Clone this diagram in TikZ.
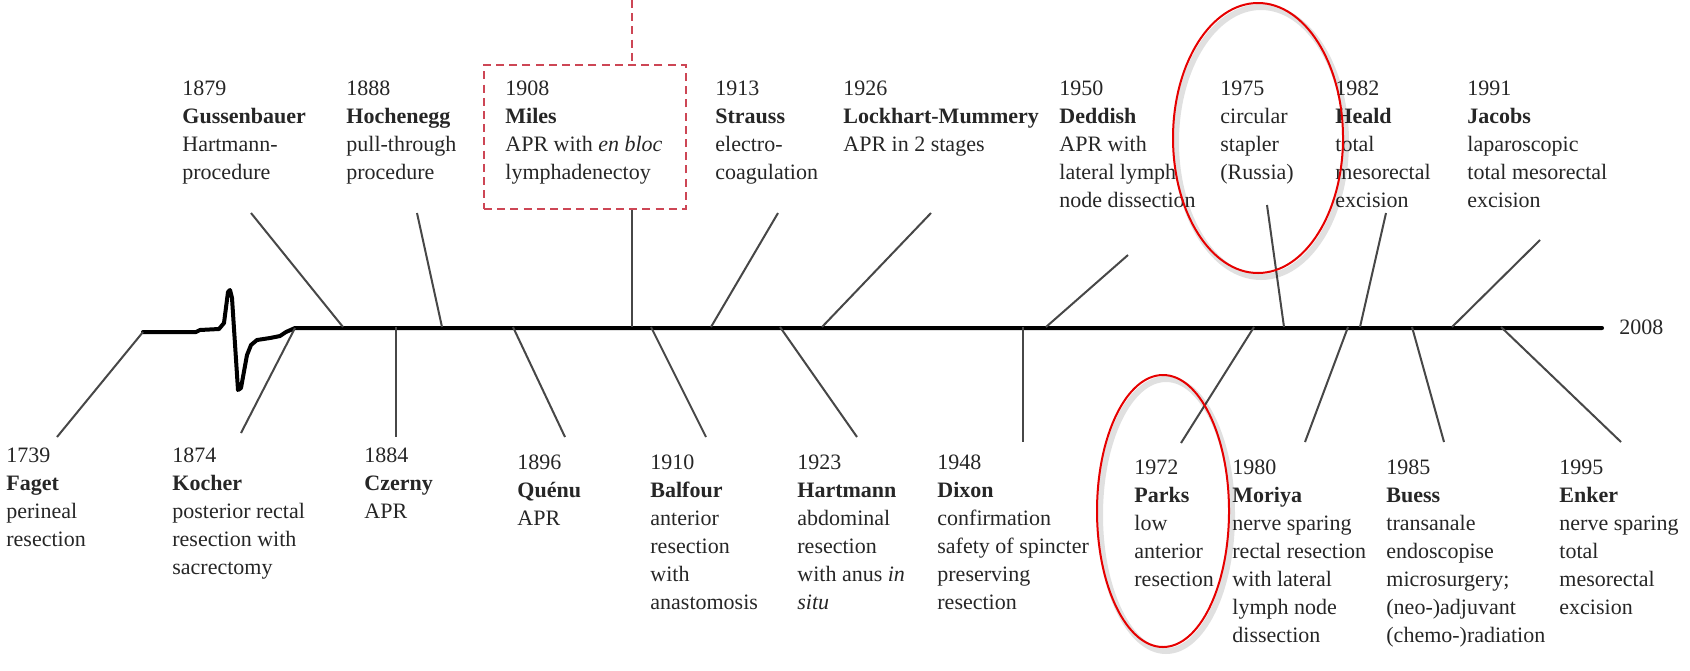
\documentclass[tikz,border=0pt]{standalone}
\usepackage{fontspec}
\setmainfont{Liberation Serif}
\usetikzlibrary{shapes.geometric}
\definecolor{boxred}{RGB}{205,70,85}
\definecolor{circred}{RGB}{230,0,0}
\begin{document}
\begin{tikzpicture}[x=0.5pt,y=-0.5pt,
  lbl/.style={anchor=north west, inner sep=0pt, align=left, font=\fontsize{11}{14}\selectfont, text=black!85},
  tick/.style={draw=black!72, line width=1pt},
  axis/.style={draw=black, line width=2pt, line join=round, line cap=round},
  hl/.style={ellipse, draw=circred, line width=1pt, inner sep=0pt},
  hlshadow/.style={ellipse, draw=black, opacity=0.12, line width=3pt, inner sep=0pt},
  milesbox/.style={draw=boxred, line width=1.2pt, dash pattern=on 4pt off 2.6pt, inner sep=0pt}
]
\useasboundingbox (0,0) rectangle (1690,670);

% main axis with wiggle
\coordinate (axstart) at (143,332);
\coordinate (axend) at (1602,328);
\draw[axis] (axstart) -- (196,332) -- (200,330) -- (219,329) -- (224,323) -- (228,292) -- (230,290) -- (232,298)
  -- (238,390) -- (241,388) -- (247,355) -- (251,345) -- (257,340) -- (270,338) -- (280,336) -- (286,332) -- (295,328) -- (axend);
\node[anchor=west, inner sep=0pt, font=\fontsize{11}{14}\selectfont, text=black!85] (y2008) at (1619,327) {2008};

% Miles box
\node[milesbox, minimum width=101pt, minimum height=72pt] (mbox) at (585,137) {};
\coordinate (mtop) at (632,0);
\draw[boxred, line width=1.2pt, dash pattern=on 4pt off 2.6pt] (mtop) -- (mtop |- mbox.north);

% connectors (top end / bottom end)
\foreach \n/\ax/\ay/\bx/\by in {
  gus/251/213/343/327, hoc/417/213/442/327, str/778/213/711/327, loc/931/213/822/327,
  ded/1128/255/1046/327, cir/1267/205/1284/327, hea/1386/213/1360/327, jac/1540/240/1452/327,
  kch/295/328/241/433, cze/396/327/396/437, que/513/327/565/437, bal/651/327/706/437,
  har/780/327/857/437, dix/1023/327/1023/442, par/1254/327/1181/443, mor/1348/327/1305/442,
  bue/1412/327/1444/442, enk/1501/327/1621/442}{
  \coordinate (\n-a) at (\ax,\ay);
  \coordinate (\n-b) at (\bx,\by);
  \draw[tick] (\n-a) -- (\n-b);
}
\coordinate (fag-b) at (57,437);
\draw[tick] (axstart) -- (fag-b);
\coordinate (mil-b) at (632,327);
\draw[tick] (mbox.south -| mil-b) -- (mil-b);

% top labels
\node[lbl] (t1879) at (182,80.5) {1879\\\textbf{Gussenbauer}\\Hartmann-\\procedure};
\node[lbl] (t1888) at (346,80.5) {1888\\\textbf{Hochenegg}\\pull-through\\procedure};
\node[lbl] (t1908) at (505,80.5) {1908\\\textbf{Miles}\\APR with \emph{en bloc}\\lymphadenectoy};
\node[lbl] (t1913) at (715,80.5) {1913\\\textbf{Strauss}\\electro-\\coagulation};
\node[lbl] (t1926) at (843,80.5) {1926\\\textbf{Lockhart-Mummery}\\APR in 2 stages};
\node[lbl] (t1950) at (1059,80.5) {1950\\\textbf{Deddish}\\APR with\\lateral lymph\\node dissection};
\node[lbl] (t1975) at (1220,80.5) {1975\\circular\\stapler\\(Russia)};
\node[lbl] (t1982) at (1335,80.5) {1982\\\textbf{Heald}\\total\\mesorectal\\excision};
\node[lbl] (t1991) at (1467,80.5) {1991\\\textbf{Jacobs}\\laparoscopic\\total mesorectal\\excision};

% bottom labels
\node[lbl] (b1739) at (6,447.5) {1739\\\textbf{Faget}\\perineal\\resection};
\node[lbl] (b1874) at (172,447.5) {1874\\\textbf{Kocher}\\posterior rectal\\resection with\\sacrectomy};
\node[lbl] (b1884) at (364,447.5) {1884\\\textbf{Czerny}\\APR};
\node[lbl] (b1896) at (517,454.5) {1896\\\textbf{Quénu}\\APR};
\node[lbl] (b1910) at (650,454.5) {1910\\\textbf{Balfour}\\anterior\\resection\\with\\anastomosis};
\node[lbl] (b1923) at (797,454.5) {1923\\\textbf{Hartmann}\\abdominal\\resection\\with anus \emph{in}\\\emph{situ}};
\node[lbl] (b1948) at (937,454.5) {1948\\\textbf{Dixon}\\confirmation\\safety of spincter\\preserving\\resection};
\node[lbl] (b1972) at (1134,459.5) {1972\\\textbf{Parks}\\low\\anterior\\resection};
\node[lbl] (b1980) at (1232,459.5) {1980\\\textbf{Moriya}\\nerve sparing\\rectal resection\\with lateral\\lymph node\\dissection};
\node[lbl] (b1985) at (1386,459.5) {1985\\\textbf{Buess}\\transanale\\endoscopise\\microsurgery;\\(neo-)adjuvant\\(chemo-)radiation};
\node[lbl] (b1995) at (1559,459.5) {1995\\\textbf{Enker}\\nerve sparing\\total\\mesorectal\\excision};

% highlight ellipses
\node[hlshadow, minimum width=85pt, minimum height=135pt] (e1975s) at (1261,142) {};
\node[hl, minimum width=85pt, minimum height=135pt] (e1975) at (1258,138) {};
\node[hlshadow, minimum width=66pt, minimum height=136pt] (e1972s) at (1166,515) {};
\node[hl, minimum width=66pt, minimum height=136pt] (e1972) at (1163,511) {};
\end{tikzpicture}
\end{document}
